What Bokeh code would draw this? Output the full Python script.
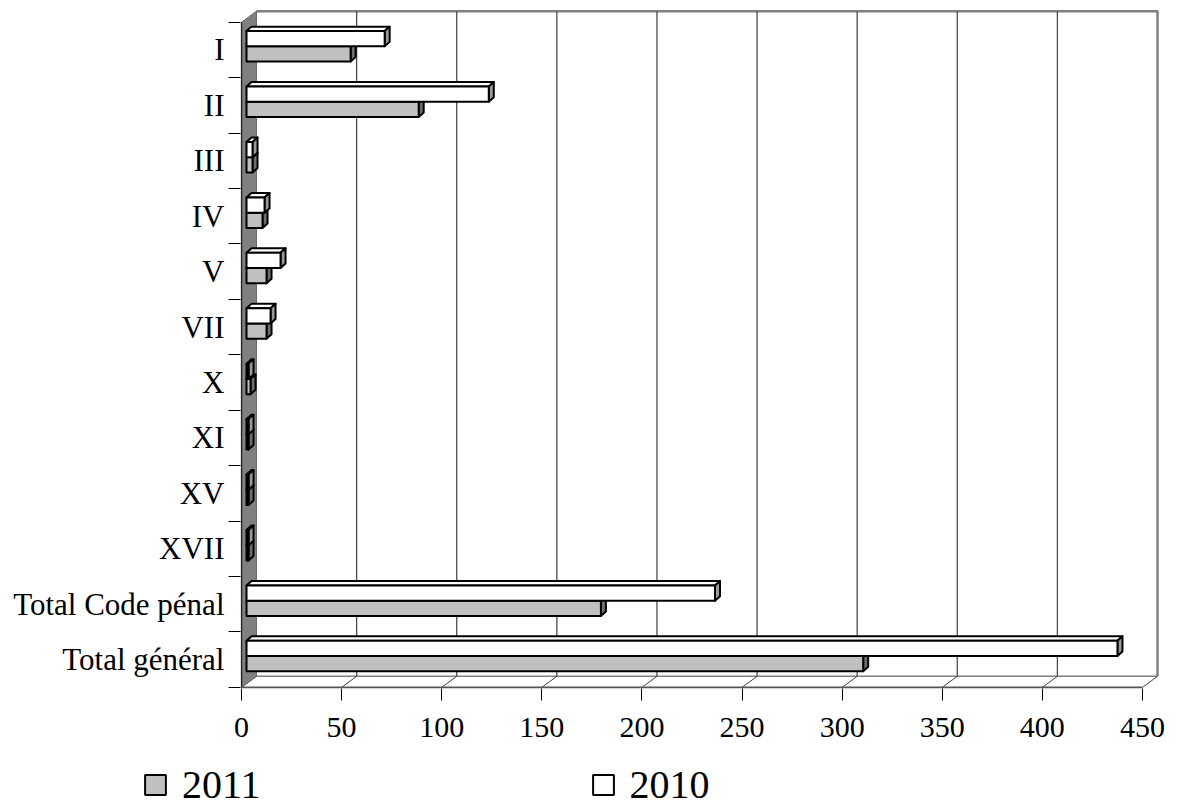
from bokeh.plotting import figure
from bokeh.layouts import column, row
from bokeh.models import Range1d, FixedTicker, Legend, LegendItem
from bokeh.embed import file_html
from bokeh.resources import INLINE

# ---- data ----
categories = ["I", "II", "III", "IV", "V", "VII", "X", "XI", "XV", "XVII",
              "Total Code pénal", "Total général"]
values_2011 = [52, 86, 3, 8, 10, 10, 2, 1, 1, 1, 177, 308]
values_2010 = [69, 121, 3, 9, 17, 12, 1, 1, 1, 1, 234, 435]
x_ticks = [0, 50, 100, 150, 200, 250, 300, 350, 400, 450]
series_names = ["2011", "2010"]

# ---- geometry (pseudo-3D, in data units) ----
n = len(categories)
XMAX = x_ticks[-1]
YMAX = n
WX, WY = 7.5, 0.2        # depth offset of the back wall
BX = 2.5                  # bar front face start (inside the left wall)
DXB, DYB = 2.5, 0.081     # bar depth
C, H = 0.565, 0.275       # bar pair centre in band, bar thickness

FONT = "Liberation Serif"

p = figure(width=1177, height=752,
           x_range=Range1d(-0.5, 459), y_range=Range1d(-0.02, 12.23),
           output_backend="svg", toolbar_location=None,
           min_border_left=240, min_border_right=17,
           min_border_top=9, min_border_bottom=64)
p.xgrid.visible = False
p.ygrid.visible = False
p.outline_line_color = None

# back wall edges
p.line([WX, WX + XMAX, WX + XMAX], [YMAX + WY, YMAX + WY, WY],
       line_color="#808080", line_width=2.5)
p.line([WX, WX + XMAX], [WY, WY], line_color="#808080", line_width=1.5)
# gridlines on back wall
gx = [t + WX for t in x_ticks[1:-1]]
p.segment(x0=gx, y0=[WY] * len(gx), x1=gx, y1=[YMAX + WY] * len(gx),
          line_color="#4d4d4d", line_width=1.3)
# floor diagonals
p.segment(x0=x_ticks, y0=[0] * len(x_ticks),
          x1=[t + WX for t in x_ticks], y1=[WY] * len(x_ticks),
          line_color="#404040", line_width=1)
# front bottom edge
p.line([0, XMAX], [0, 0], line_color="#555555", line_width=2)
# left wall
p.patch([0, WX, WX, 0], [0, WY, YMAX + WY, YMAX],
        fill_color="#808080", line_color="#6a6a6a", line_width=1)
p.line([0, 0], [0, YMAX], line_color="#222222", line_width=1.5)

# ---- bars ----
band = [n - 1 - k for k in range(n)]  # band bottom (first category at top)


def draw_series(fig, values, lower, front_col, top_col, side_col):
    if lower:
        bottoms = [b + C - H for b in band]
    else:
        bottoms = [b + C for b in band]
    tops = [b + H for b in bottoms]
    lefts = [BX] * n
    rights = [BX + v for v in values]
    txs = [[BX, BX + DXB, r + DXB, r] for r in rights]
    tys = [[t, t + DYB, t + DYB, t] for t in tops]
    sxs = [[r, r + DXB, r + DXB, r] for r in rights]
    sys_ = [[b, b + DYB, t + DYB, t] for b, t in zip(bottoms, tops)]
    fig.patches(txs, tys, fill_color=top_col, line_color="black", line_width=2,
                line_join="round")
    fig.patches(sxs, sys_, fill_color=side_col, line_color="black", line_width=2,
                line_join="round")
    return fig.quad(left=lefts, right=rights, bottom=bottoms, top=tops,
                    fill_color=front_col, line_color="black", line_width=2,
                    line_join="round")


draw_series(p, values_2011, True, "#C0C0C0", "#C8C8C8", "#6e6e6e")
draw_series(p, values_2010, False, "#FFFFFF", "#FFFFFF", "#9a9a9a")

# ---- axes ----
yax = p.yaxis[0]
yax.ticker = FixedTicker(ticks=[b + 0.5 for b in band],
                         minor_ticks=list(range(n + 1)))
yax.major_label_overrides = {b + 0.5: c for b, c in zip(band, categories)}
yax.major_tick_out = 0
yax.major_tick_in = 0
yax.minor_tick_out = 12
yax.minor_tick_in = 0
yax.minor_tick_line_color = "black"
yax.axis_line_color = None
yax.major_label_standoff = 4
yax.major_label_text_font = FONT
yax.major_label_text_font_size = "31px"
yax.major_label_text_color = "black"

xax = p.xaxis[0]
xax.ticker = FixedTicker(ticks=x_ticks, minor_ticks=[])
xax.major_tick_out = 12
xax.major_tick_in = 0
xax.major_tick_line_color = "black"
xax.axis_line_color = None
xax.major_label_standoff = 17
xax.major_label_text_font = FONT
xax.major_label_text_font_size = "30px"
xax.major_label_text_color = "black"

# ---- legend (own strip below the chart) ----
lg = figure(width=1177, height=56, x_range=Range1d(0, 1), y_range=Range1d(0, 1),
            output_backend="svg", toolbar_location=None,
            x_axis_location=None, y_axis_location=None,
            min_border_left=0, min_border_right=0,
            min_border_top=0, min_border_bottom=0)
lg.xgrid.visible = False
lg.ygrid.visible = False
lg.outline_line_color = None
# legend swatches reuse the bar styles (drawn outside the strip's range)
sw2011 = lg.quad(left=[2], right=[3], bottom=[2], top=[3], fill_color="#C0C0C0",
                 line_color="black", line_width=2)
sw2010 = lg.quad(left=[2], right=[3], bottom=[2], top=[3], fill_color="#FFFFFF",
                 line_color="black", line_width=2)
legend = Legend(items=[LegendItem(label=series_names[0], renderers=[sw2011]),
                       LegendItem(label=series_names[1], renderers=[sw2010])],
                orientation="horizontal", location=(142, 0),
                glyph_width=26, glyph_height=25, label_standoff=14,
                spacing=329, padding=0, margin=0,
                border_line_color=None, background_fill_alpha=0,
                label_text_font=FONT, label_text_font_size="40px",
                label_text_color="black")
lg.add_layout(legend, "center")

layout = column(row(p), row(lg), spacing=0)
open("out.html", "w").write(file_html(layout, INLINE))
